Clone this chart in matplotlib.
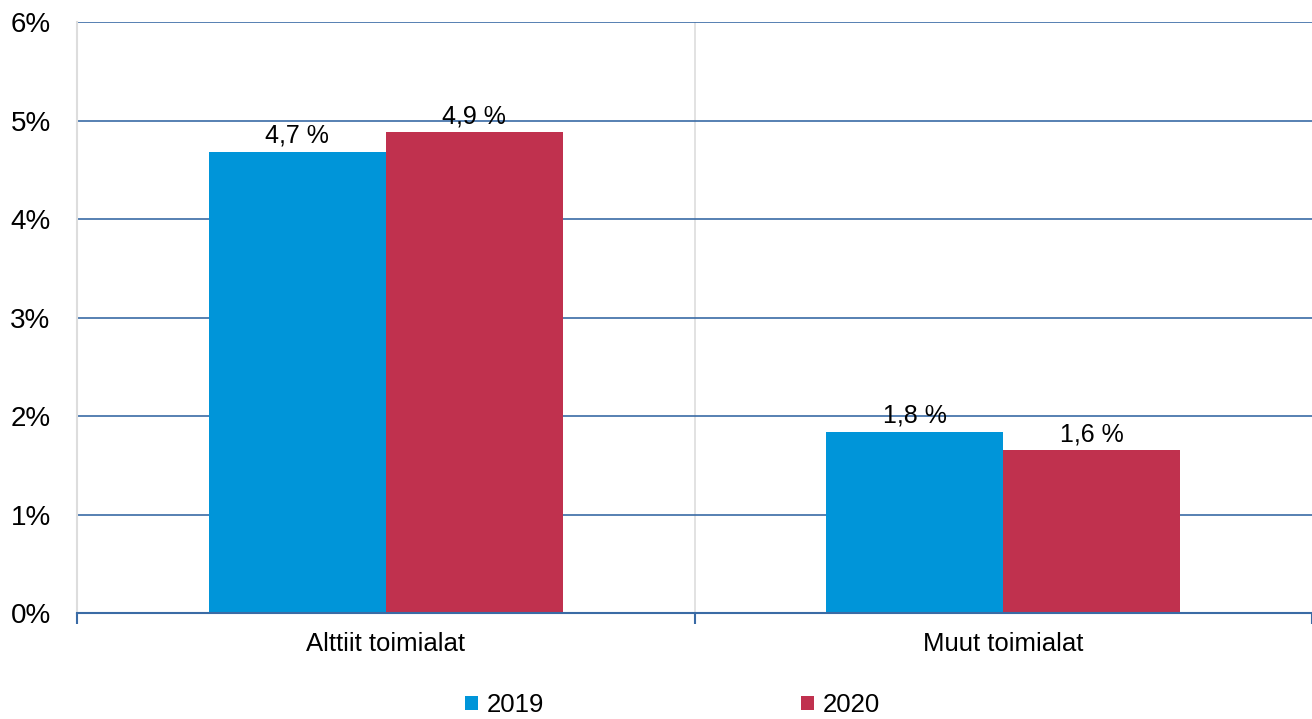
import matplotlib.pyplot as plt
import numpy as np

plt.rcParams['font.family'] = ['Liberation Sans', 'DejaVu Sans']

categories = ['Alttiit toimialat', 'Muut toimialat']
years = ['2019', '2020']
values_2019 = [4.68, 1.84]
values_2020 = [4.88, 1.65]
labels_2019 = ['4,7 %', '1,8 %']
labels_2020 = ['4,9 %', '1,6 %']
yticks = [0, 1, 2, 3, 4, 5, 6]

blue = '#0095d9'
red = '#c0314e'
grid_blue = '#3a6ba5'

fig = plt.figure(figsize=(13.12, 7.19), dpi=100)
ax = fig.add_axes([0.0587, 0.1474, 0.9413, 0.822])

x = np.arange(len(categories))
w = 0.2866
b1 = ax.bar(x - w / 2, values_2019, w, color=blue, label=years[0], zorder=3)
b2 = ax.bar(x + w / 2, values_2020, w, color=red, label=years[1], zorder=3)
ax.bar_label(b1, labels=labels_2019, padding=3, fontsize=18)
ax.bar_label(b2, labels=labels_2020, padding=3, fontsize=18)

ax.set_xlim(-0.5, 1.5)
ax.set_ylim(0, 6)
ax.set_yticks(yticks)
ax.set_yticklabels([f'{t}%' for t in yticks], fontsize=20)
ax.tick_params(axis='y', length=0, pad=19)

ax.set_xticks(x)
ax.set_xticklabels(categories, fontsize=18.5)
ax.tick_params(axis='x', which='major', length=0, pad=14)
ax.set_xticks([-0.5, 0.5, 1.5], minor=True)
ax.tick_params(axis='x', which='minor', length=8, width=1.5, color=grid_blue, direction='out')

ax.grid(axis='y', color=grid_blue, linewidth=1.2, zorder=0)
ax.grid(axis='x', which='both', visible=False)
ax.axvline(0.5, color='#dddddd', linewidth=1.2, zorder=0)

for s in ['top', 'right']:
    ax.spines[s].set_visible(False)
ax.spines['left'].set_color('#dddddd')
ax.spines['left'].set_linewidth(1.5)
ax.spines['bottom'].set_color(grid_blue)
ax.spines['bottom'].set_linewidth(1.5)
ax.spines['bottom'].set_zorder(4)

fig.legend(handles=[b1, b2], labels=years, loc='center', bbox_to_anchor=(0.5125, 0.0195),
           ncol=2, frameon=False, fontsize=18.5, handlelength=0.5, handleheight=0.5,
           handletextpad=0.35, columnspacing=10.0, borderaxespad=0)

fig.savefig('out.png', dpi=100)
